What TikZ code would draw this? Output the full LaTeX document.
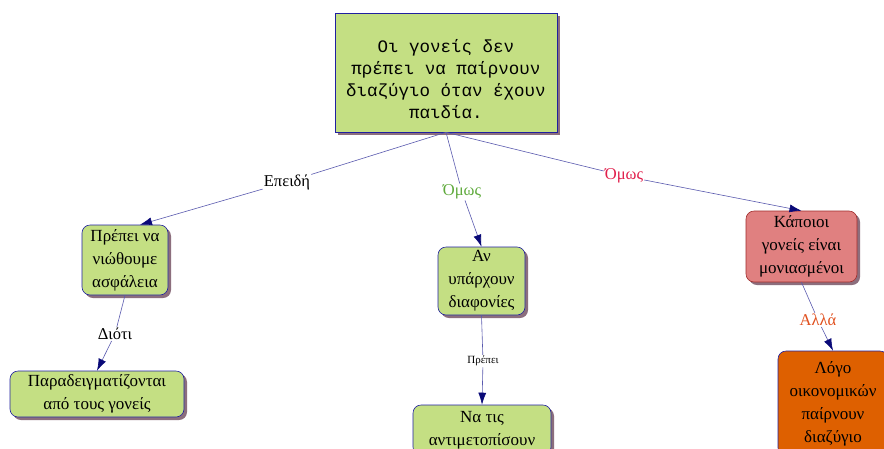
\documentclass[tikz,border=0pt]{standalone}
\usepackage{fontspec}
\setmainfont{Liberation Serif}
\newfontfamily\monofont{Liberation Mono}
\usepackage{tikz}
\usetikzlibrary{arrows.meta,shadows}

\definecolor{conceptgreen}{RGB}{196,223,131}
\definecolor{conceptred}{RGB}{224,128,128}
\definecolor{conceptorange}{RGB}{222,96,0}
\definecolor{edgeblue}{RGB}{32,32,160}
\definecolor{shadowc}{RGB}{140,110,125}
\definecolor{linkline}{RGB}{90,90,175}
\definecolor{tipnavy}{RGB}{10,10,120}
\definecolor{labgreen}{RGB}{95,170,60}
\definecolor{labcrimson}{RGB}{225,30,75}
\definecolor{laborange}{RGB}{225,80,30}

\begin{document}
\begin{tikzpicture}[x=1pt, y=-1pt,
  concept/.style={draw=edgeblue, fill=conceptgreen, rounded corners=8pt,
    align=center, inner sep=2pt, line width=0.6pt,
    font=\fontsize{17}{23}\selectfont,
    drop shadow={shadow xshift=3pt, shadow yshift=-3pt, fill=shadowc, opacity=1}},
  linkword/.style={fill=white, inner sep=1pt, font=\fontsize{16.5}{18}\selectfont},
  link/.style={draw=linkline, line width=0.6pt},
  linkto/.style={link, -{Latex[length=12pt,width=8pt,color=tipnavy]}}
  ]
  \useasboundingbox (0,0) rectangle (884,448);
  \fill[white] (0,0) rectangle (884,448);

  % concepts
  \node[concept, rounded corners=0pt, minimum width=222pt, minimum height=119pt] (top) at (446,72.5) {};
  \node[align=center, font=\monofont\fontsize{17.5}{22}\selectfont] (topText) at ([yshift=-7pt]top.center)
    {Οι γονείς δεν\\πρέπει να παίρνουν\\διαζύγιο όταν έχουν\\παιδία.};
  \node[concept, minimum width=86pt, minimum height=70pt] (safe) at (125,260)
    {Πρέπει να\\νιώθουμε\\ασφάλεια};
  \node[concept, minimum width=87pt, minimum height=68pt] (disagree) at (481.5,281)
    {Αν\\υπάρχουν\\διαφονίες};
  \node[concept, fill=conceptred, draw={rgb,255:red,160;green,45;blue,45},
    minimum width=111pt, minimum height=71pt] (lonely) at (801.5,246.5)
    {Κάποιοι\\γονείς είναι\\μονιασμένοι};
  \node[concept, minimum width=174pt, minimum height=46pt] (example) at (97,394)
    {Παραδειγματίζονται\\από τους γονείς};
  \node[concept, minimum width=138pt, minimum height=50pt] (face) at (482,430)
    {Να τις\\αντιμετοπίσουν};
  \node[concept, fill=conceptorange, minimum width=110pt, minimum height=105pt] (money) at (833,403.5)
    {Λόγο\\οικονομικών\\παίρνουν\\διαζύγιο};

  % linking words
  \node[linkword] (because) at (287,182) {Επειδή};
  \node[linkword, text=labgreen] (howeverA) at (462,192) {Όμως};
  \node[linkword, text=labcrimson] (howeverB) at (624,176) {Όμως};
  \node[linkword] (since) at (115,334) {Διότι};
  \node[linkword, font=\fontsize{11}{13}\selectfont] (must) at (483,361) {Πρέπει};
  \node[linkword, text=laborange] (but) at (818,320) {Αλλά};

  % connectors
  \draw[link] (top.south) -- (because);
  \draw[linkto] (because) -- ([xshift=15pt]safe.north);
  \draw[link] (top.south) -- (howeverA);
  \draw[linkto] (howeverA) -- (disagree.north);
  \draw[link] (top.south) -- (howeverB);
  \draw[linkto] (howeverB) -- (lonely.north);
  \draw[link] (safe.south) -- (since);
  \draw[linkto] (since) -- (example.north);
  \draw[link] (disagree.south) -- (must);
  \draw[linkto] (must) -- (face.north);
  \draw[link] (lonely.south) -- (but);
  \draw[linkto] (but) -- (money.north);
\end{tikzpicture}
\end{document}
